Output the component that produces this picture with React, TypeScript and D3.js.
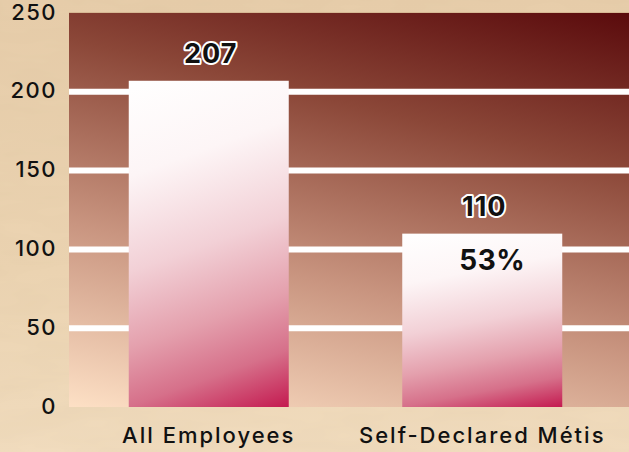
import React from "react";
import * as d3 from "d3";

const categories = ["All Employees", "Self-Declared Métis"];
const values = [207, 110];
const valueLabels = ["207", "110"];
const shareLabels = ["", "53%"];
const yTicks = [0, 50, 100, 150, 200, 250];
const gridTicks = [50, 100, 150, 200];

const W = 629;
const H = 452;
const plot = { left: 69, right: 629, top: 13, bottom: 407 };

export default function App() {
  const y = d3.scaleLinear().domain([0, 250]).range([plot.bottom, plot.top]);
  const x = d3
    .scaleBand<string>()
    .domain(categories)
    .range([72, 619])
    .paddingInner(0.415)
    .paddingOuter(0.2075);

  const font = "Inter, 'Open Sans', sans-serif";

  return (
    <svg
      width={W}
      height={H}
      style={{ position: "absolute", left: 0, top: 0, display: "block" }}
    >
      <defs>
        <linearGradient id="paper" x1="0" y1="0" x2="0" y2="1">
          <stop offset="0" stopColor="#e7cdaa" />
          <stop offset="0.6" stopColor="#ecd4b2" />
          <stop offset="1" stopColor="#f1dcbe" />
        </linearGradient>
        <filter id="grain" x="0" y="0" width="100%" height="100%">
          <feTurbulence type="fractalNoise" baseFrequency="0.012 0.05" numOctaves="3" seed="4" />
          <feColorMatrix
            type="matrix"
            values="0 0 0 0 0.55  0 0 0 0 0.42  0 0 0 0 0.25  0 0 0 0.14 -0.02"
          />
        </filter>
        <linearGradient
          id="plotBg"
          gradientUnits="userSpaceOnUse"
          x1={plot.left}
          y1={plot.bottom}
          x2={plot.left + 117}
          y2={plot.bottom - 499}
        >
          <stop offset="0" stopColor="#fde0c5" />
          <stop offset="0.35" stopColor="#c99580" />
          <stop offset="0.7" stopColor="#8b4738" />
          <stop offset="1" stopColor="#5a0a0c" />
        </linearGradient>
        <linearGradient id="barFill" x1="0" y1="0" x2="0.2" y2="1.14">
          <stop offset="0" stopColor="#ffffff" />
          <stop offset="0.25" stopColor="#fdf5f6" />
          <stop offset="0.5" stopColor="#f2d0d6" />
          <stop offset="0.7" stopColor="#e4a0ad" />
          <stop offset="0.85" stopColor="#d6708a" />
          <stop offset="1" stopColor="#c41a50" />
        </linearGradient>
      </defs>

      <rect x={0} y={0} width={W} height={H} fill="url(#paper)" />
      <rect x={0} y={0} width={W} height={H} filter="url(#grain)" />

      <rect
        x={plot.left}
        y={plot.top}
        width={plot.right - plot.left}
        height={plot.bottom - plot.top}
        fill="url(#plotBg)"
      />
      <line
        x1={plot.left}
        x2={plot.right}
        y1={plot.top - 0.5}
        y2={plot.top - 0.5}
        stroke="#d7b894"
        strokeWidth={1}
      />

      {gridTicks.map((t) => (
        <line
          key={t}
          x1={plot.left}
          x2={plot.right}
          y1={y(t)}
          y2={y(t)}
          stroke="#ffffff"
          strokeWidth={6}
        />
      ))}

      {yTicks.map((t) => (
        <text
          key={t}
          x={57}
          y={y(t) - 1.5}
          textAnchor="end"
          dominantBaseline="central"
          fontFamily={font}
          fontWeight={500}
          fontSize={22}
          letterSpacing={1.5}
          fill="#111"
        >
          {t}
        </text>
      ))}

      {categories.map((c, i) => {
        const bx = x(c)!;
        const bw = x.bandwidth();
        const cx = bx + bw / 2;
        return (
          <g key={c}>
            <rect
              x={bx}
              y={y(values[i])}
              width={bw}
              height={y(0) - y(values[i])}
              fill="url(#barFill)"
            />
            <text
              x={cx + 2}
              y={y(values[i]) - 18}
              textAnchor="middle"
              fontFamily={font}
              fontWeight={700}
              fontSize={27}
              letterSpacing={1}
              fill="#111"
              stroke="#ffffff"
              strokeWidth={4}
              strokeLinejoin="round"
              style={{ paintOrder: "stroke" }}
            >
              {valueLabels[i]}
            </text>
            {shareLabels[i] && (
              <text
                x={cx + 10}
                y={y(values[i]) + 36}
                textAnchor="middle"
                fontFamily={font}
                fontWeight={700}
                fontSize={28}
                letterSpacing={0.5}
                fill="#111"
              >
                {shareLabels[i]}
              </text>
            )}
            <text
              x={cx}
              y={443}
              textAnchor="middle"
              fontFamily={font}
              fontWeight={500}
              fontSize={22}
              letterSpacing={2}
              fill="#111"
            >
              {c}
            </text>
          </g>
        );
      })}
    </svg>
  );
}
